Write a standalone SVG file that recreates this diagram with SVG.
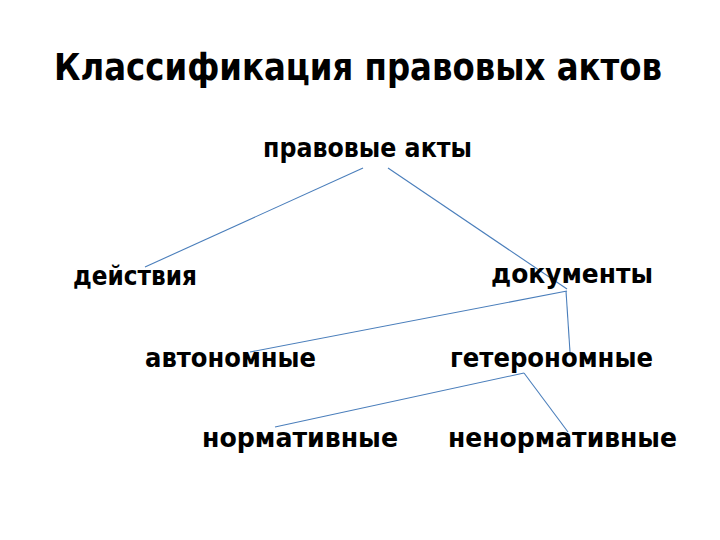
<svg xmlns="http://www.w3.org/2000/svg" width="720" height="540" viewBox="0 0 720 540">
<style>
text{font-family:"DejaVu Sans Condensed","Open Sans","Liberation Sans",sans-serif;font-weight:bold;fill:#000}
.t{font-size:37px}
.n{font-size:26px}
.c line{stroke:#4a7ebb;stroke-width:1.1}
</style>
<rect width="720" height="540" fill="#fff"/>
<text id="title" class="t" x="54" y="80" textLength="608" lengthAdjust="spacingAndGlyphs">Классификация правовых актов</text>
<g class="c" id="connectors">
<line x1="363" y1="168" x2="145" y2="267"/>
<line x1="388" y1="168" x2="567" y2="289"/>
<line x1="567" y1="291" x2="250" y2="352"/>
<line x1="566" y1="291" x2="570" y2="352"/>
<line x1="524" y1="373" x2="275" y2="427"/>
<line x1="524" y1="373" x2="568" y2="432"/>
</g>
<g id="n-root"><text class="n" x="263" y="157" textLength="209" lengthAdjust="spacingAndGlyphs">правовые акты</text></g>
<g id="n-deistviya"><text class="n" x="73" y="285" textLength="124" lengthAdjust="spacingAndGlyphs">действия</text></g>
<g id="n-dokumenty"><text class="n" x="491" y="283" textLength="162" lengthAdjust="spacingAndGlyphs">документы</text></g>
<g id="n-avtonomnye"><text class="n" x="145" y="367" textLength="171" lengthAdjust="spacingAndGlyphs">автономные</text></g>
<g id="n-geteronomnye"><text class="n" x="450" y="367" textLength="203" lengthAdjust="spacingAndGlyphs">гетерономные</text></g>
<g id="n-normativnye"><text class="n" x="202" y="447" textLength="196" lengthAdjust="spacingAndGlyphs">нормативные</text></g>
<g id="n-nenormativnye"><text class="n" x="448" y="447" textLength="229" lengthAdjust="spacingAndGlyphs">ненормативные</text></g>
</svg>
